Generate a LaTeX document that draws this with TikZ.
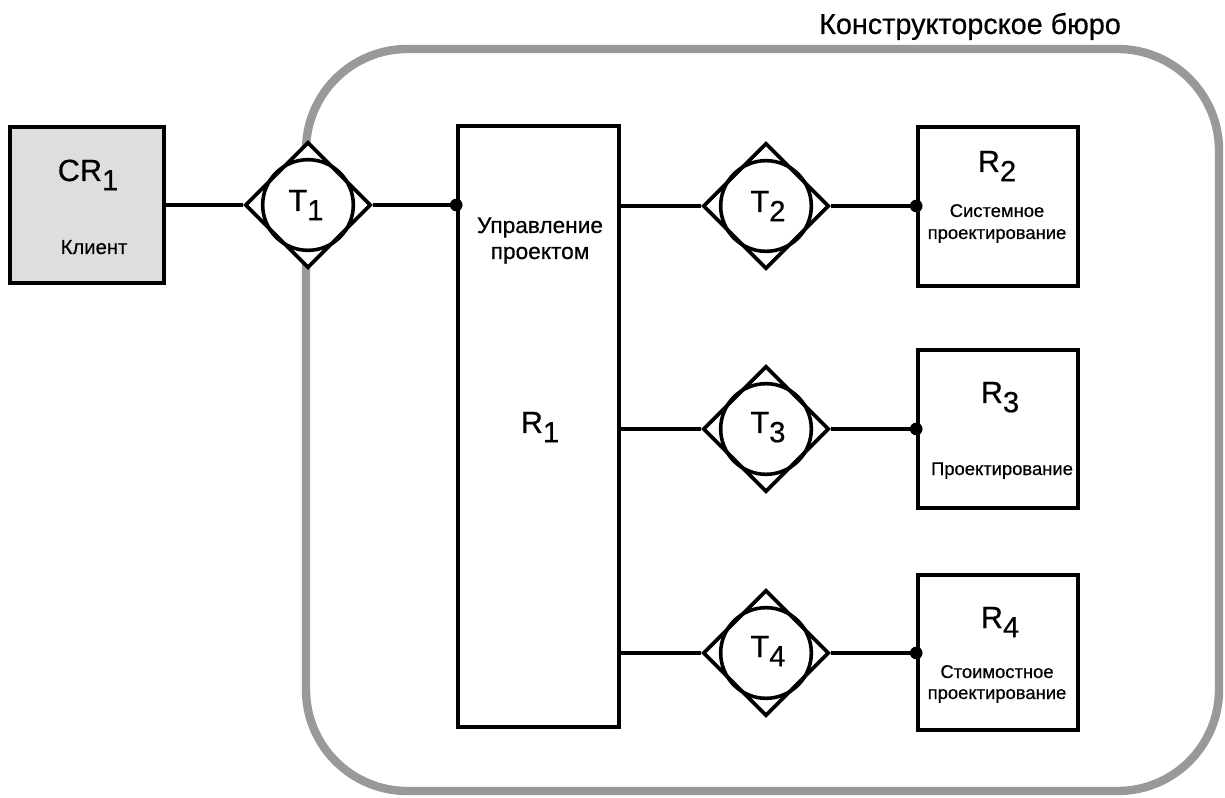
\documentclass[tikz,border=0pt]{standalone}
\usepackage{fontspec}
\setmainfont[FakeBold=0.5]{Liberation Sans}
\usetikzlibrary{shapes.geometric}
\newcommand\lsub[1]{\raisebox{-0.3em}{\scalebox{0.95}{#1}}}
\definecolor{bandgray}{HTML}{999999}
\definecolor{clientfill}{HTML}{DEDEDE}
\begin{document}
\begin{tikzpicture}[x=0.75pt,y=-0.75pt,
  blk/.style={draw=black,line width=2.7pt,inner sep=0pt,minimum width=120pt},
  tdiam/.style={draw=black,line width=2.7pt,diamond,aspect=1,inner sep=0pt,minimum width=94.5pt,minimum height=94.5pt,fill=white},
  tcirc/.style={draw=black,line width=2.7pt,circle,inner sep=0pt,minimum size=68pt},
  big/.style={font=\fontsize{23}{26}\selectfont,anchor=base,inner sep=0pt},
  small/.style={font=\fontsize{13.8}{16}\selectfont,anchor=base,inner sep=0pt},
  mid/.style={font=\fontsize{17}{20}\selectfont,anchor=base,inner sep=0pt},
  conn/.style={line width=2.7pt},
  dot/.style={circle,fill=black,inner sep=0pt,minimum size=9.5pt}]
\useasboundingbox (0,0) rectangle (1225,798);
% enclosure
\draw[bandgray,line width=6.3pt,rounded corners=76pt] (306,49) rectangle (1219,791);
\node[font=\fontsize{21.6}{24}\selectfont,anchor=base,inner sep=0pt] (title) at (970,34) {Конструкторское бюро};
% boxes
\node[blk,fill=clientfill,minimum width=115.5pt,minimum height=117pt] (cr1) at (87,205) {};
\node[blk,minimum width=120.75pt,minimum height=450.75pt] (r1) at (538.5,426.5) {};
\node[blk,minimum height=119.25pt] (r2) at (998,206.5) {};
\node[blk,minimum height=118.5pt] (r3) at (998,429) {};
\node[blk,minimum height=116.25pt] (r4) at (998,652.5) {};
% T diamonds
\node[tdiam] (t1) at (308,205) {};
\node[tdiam] (t2) at (766,206) {};
\node[tdiam] (t3) at (766,429) {};
\node[tdiam] (t4) at (766,653) {};
\node[tcirc] (c1) at (t1) {};
\node[tcirc] (c2) at (t2) {};
\node[tcirc] (c3) at (t3) {};
\node[tcirc] (c4) at (t4) {};
% labels
\node[big] (lcr1) at (88,181) {CR\lsub{1}};
\node[small,font=\fontsize{15.2}{17}\selectfont] (lkl) at (94,254) {Клиент};
\node[big] (lt1) at (306,211) {T\lsub{1}};
\node[big] (lt2) at (768,212) {T\lsub{2}};
\node[big] (lt3) at (768,433) {T\lsub{3}};
\node[big] (lt4) at (768,657) {T\lsub{4}};
\node[mid] (lupr1) at (540,233) {Управление};
\node[mid] (lupr2) at (540,259) {проектом};
\node[big] (lr1) at (540,433) {R\lsub{1}};
\node[big] (lr2) at (997,172) {R\lsub{2}};
\node[small] (lr2a) at (997,217) {Системное};
\node[small] (lr2b) at (997,239) {проектирование};
\node[big] (lr3) at (1000,403) {R\lsub{3}};
\node[small] (lr3a) at (1002,475) {Проектирование};
\node[big] (lr4) at (1000,628) {R\lsub{4}};
\node[small] (lr4a) at (997,678) {Стоимостное};
\node[small] (lr4b) at (997,699) {проектирование};
% connectors
\draw[conn] (t1.west) -- (t1.west -| cr1.east);
\draw[conn] (t1.east) -- (t1.east -| r1.west);
\node[dot] (d1) at (t1.east -| r1.west) {};
\foreach \i in {2,3,4}{
  \draw[conn] (t\i.west -| r1.east) -- (t\i.west);
  \draw[conn] (t\i.east) -- (t\i.east -| r\i.west);
  \node[dot] (d\i) at (t\i.east -| r\i.west) {};
}
\end{tikzpicture}
\end{document}
